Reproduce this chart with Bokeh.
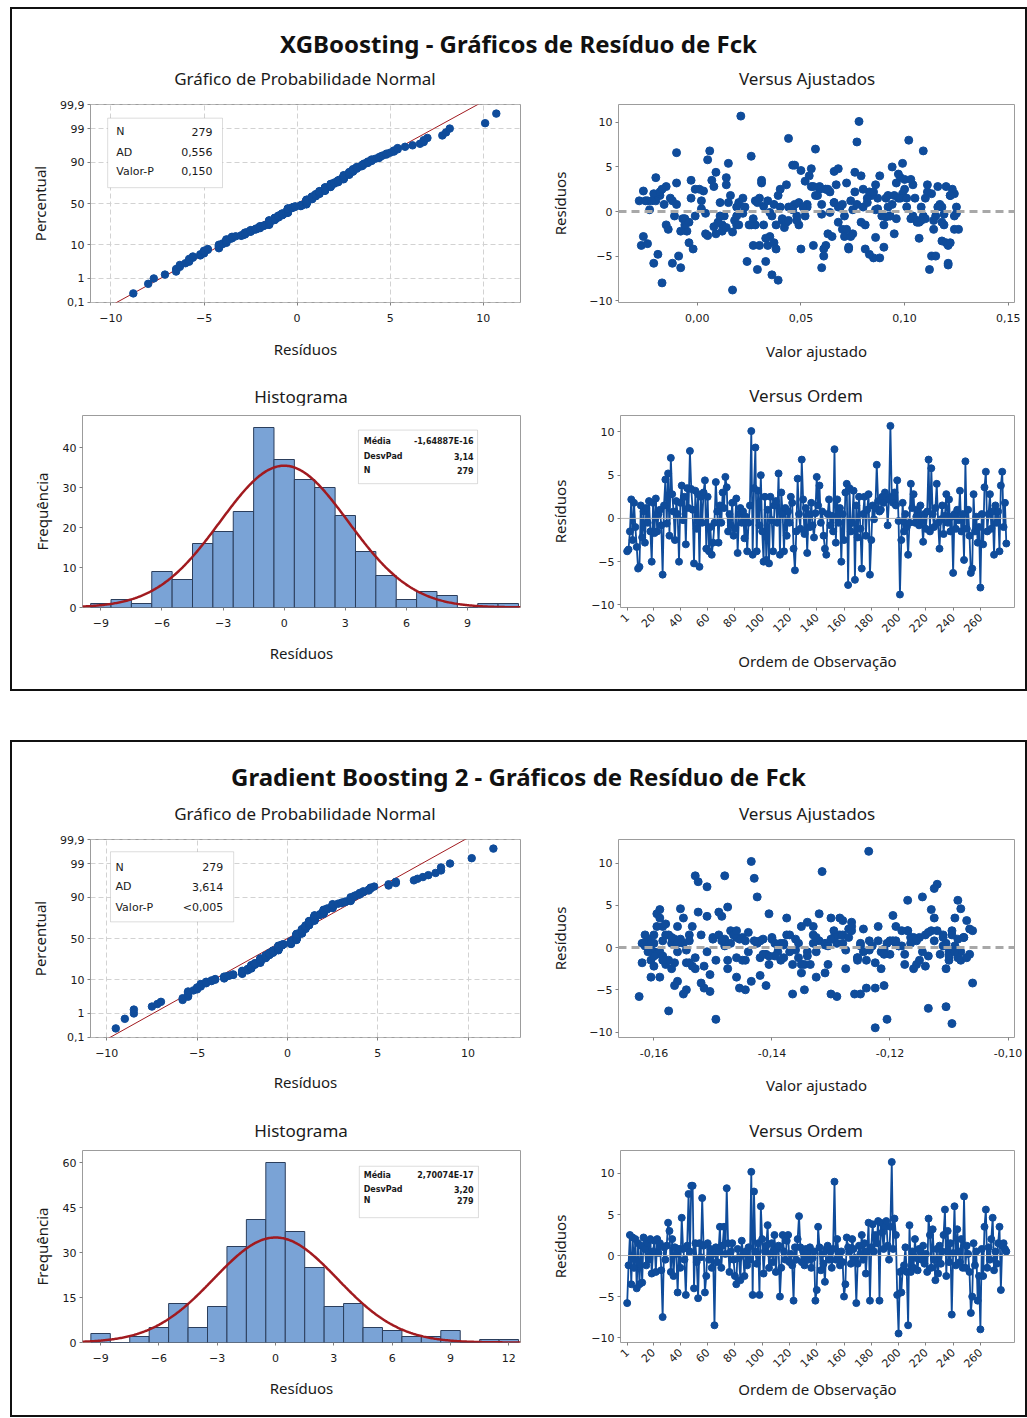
import math
from statistics import NormalDist
import numpy as np
from bokeh.plotting import figure
from bokeh.layouts import column, row
from bokeh.models import (Div, Spacer, Range1d, FixedTicker, CustomJSTickFormatter,
                          Span, BoxAnnotation, Label)
from bokeh.embed import file_html
from bokeh.resources import INLINE

# ---------------- data ----------------
N_OBS = 279

XGB_RES = [
    -3.8, -3.6, -1.5, 2.2, -2.5, 1.8, -1.0, -3.3, -5.8, -5.6, 1.5, -2.2, 0.8, -2.8, 1.2, -0.5, 2.0, -1.5, -5.0, 1.8,
    -1.7, 2.3, -1.5, 0.5, 1.0, -0.8, -6.5, 1.5, 4.5, -0.6, 5.2, -2.0, 7.0, 2.8, 0.8, -2.5, 2.0, 0.5, -5.0, 1.8,
    3.8, -0.2, 2.5, -3.0, 3.5, 1.2, 7.8, 3.4, 1.0, -5.2, 3.2, -1.2, 2.8, -5.6, 2.5, -0.5, 3.0, 4.4, -3.5, 2.5,
    -3.8, -1.0, -4.2, -2.8, -0.5, 4.2, 0.8, -2.8, 1.5, -0.5, 3.0, 1.2, 4.8, 3.6, -1.5, 0.5, -0.8, 1.8, -2.0, -1.2,
    2.3, -4.0, 0.5, 1.2, -0.5, 0.8, -2.3, 0.2, -3.8, -0.5, 1.5, 10.1, -4.2, 3.5, 8.2, -3.8, 3.2, -0.8, 5.0, -1.5,
    -5.0, 2.5, -4.8, 1.0, -5.2, 2.5, -0.2, -3.8, 1.5, 2.0, -0.5, 5.2, -4.2, 3.0, 0.5, -3.8, 1.2, -2.0, 0.8, -0.5,
    2.5, 1.8, -3.5, -6.0, -1.5, 4.6, 0.5, -1.2, 6.8, 2.2, -1.8, 1.2, -4.0, 0.5, -1.0, 1.8, -0.8, -2.2, 0.6, 4.8,
    1.5, 3.8, -0.5, 0.8, -2.0, -3.5, -4.2, 0.5, 2.2, -0.8, 0.3, -1.5, 8.0, -2.8, 2.2, -0.5, 1.2, -5.0, 0.5, -2.5,
    3.0, 4.0, -7.7, 3.5, -1.5, -0.5, 3.2, -7.1, 1.5, -2.2, 2.5, -1.2, -5.8, 0.5, 2.5, -2.0, 1.0, 2.8, -6.5, -2.5,
    1.5, -0.1, 1.2, 6.2, 2.0, 0.8, 1.0, 2.5, 1.8, 3.0, 2.5, -0.8, 2.2, 10.7, 2.5, 1.8, 3.0, 1.5, 4.4, -0.3,
    -8.8, -2.5, 1.8, -1.5, 0.5, -1.0, -4.2, -0.5, 4.0, 1.2, 2.8, -0.5, 0.2, 1.0, -0.8, 1.5, -0.3, -2.7, 0.5, -1.2,
    0.8, 6.8, -1.5, 5.8, 0.5, -1.0, 1.2, 4.0, -0.5, -3.5, -0.1, 1.5, -1.8, 0.3, 2.8, -0.5, 2.2, -1.5, 0.2, -6.3,
    0.5, -1.2, 1.0, -0.2, 3.2, -1.5, 0.5, -4.8, 6.6, -1.2, 1.0, -2.0, -6.3, -5.8, 2.8, -1.5, 0.2, -2.8, -1.0, -8.0,
    0.5, -3.0, 3.6, 5.4, -1.5, 0.5, 2.8, -1.2, 0.8, -4.2, 1.5, -0.5, 0.8, -3.8, 3.8, 5.4, -1.0, 1.8, -2.9,
]

XGB_FIT = [
    -0.027, -0.024, 0.012, 0.064, 0.095, -0.018, 0.041, 0.118, -0.012, 0.033, 0.087, -0.005, 0.053, 0.071, 0.002, 0.109, -0.021, 0.026, 0.061, 0.122,
    0.008, -0.026, 0.049, 0.080, 0.015, 0.103, 0.029, -0.003, 0.066, 0.091, 0.046, 0.114, 0.057, -0.015, 0.037, 0.075, 0.124, 0.019, -0.009, 0.084,
    0.098, 0.004, 0.059, 0.107, 0.031, -0.020, 0.077, 0.052, 0.011, 0.088, -0.010, 0.068, 0.116, 0.024, -0.001, 0.093, 0.043, 0.009, 0.120, 0.062,
    0.027, 0.106, -0.002, 0.074, 0.048, 0.097, -0.016, 0.035, 0.082, 0.013, 0.111, -0.024, 0.055, 0.100, 0.020, 0.069, -0.007, 0.039, 0.126, 0.079,
    0.003, 0.090, 0.045, -0.028, 0.115, 0.060, 0.017, 0.086, 0.034, 0.104, -0.013, 0.078, 0.050, 0.007, 0.044, 0.121, 0.072, -0.006, 0.094, 0.028,
    0.113, 0.040, -0.019, 0.066, 0.085, 0.001, 0.125, 0.056, 0.022, 0.099, -0.011, 0.047, 0.081, 0.014, 0.108, 0.030, -0.025, 0.070, 0.117, 0.036,
    0.063, 0.092, -0.004, 0.121, 0.025, 0.050, 0.101, 0.010, 0.006, 0.083, 0.042, -0.022, 0.073, 0.118, 0.018, 0.058, 0.096, -0.008, 0.032, 0.068,
    0.105, 0.014, 0.089, 0.047, -0.014, 0.122, 0.061, 0.023, 0.076, 0.110, 0.002, 0.038, 0.102, 0.065, -0.018, 0.093, 0.028, 0.115, 0.053, 0.009,
    0.086, 0.054, 0.039, -0.003, 0.119, 0.071, 0.031, 0.036, 0.097, 0.012, 0.062, 0.107, -0.021, 0.045, 0.080, 0.124, 0.020, 0.059, 0.112, 0.004,
    0.091, 0.035, 0.074, 0.026, 0.113, -0.010, 0.049, 0.100, 0.016, 0.067, 0.123, 0.041, 0.085, 0.021, -0.017, 0.057, 0.104, 0.030, 0.076, 0.119,
    0.017, 0.063, 0.095, -0.006, 0.044, 0.108, 0.073, 0.011, 0.088, 0.034, 0.120, 0.052, -0.023, 0.082, 0.027, 0.098, 0.060, 0.005, 0.116, 0.043,
    0.070, 0.109, 0.019, 0.005, 0.092, 0.048, -0.012, 0.079, 0.124, 0.037, 0.064, 0.101, 0.014, 0.087, 0.055, -0.001, 0.111, 0.032, 0.075, -0.008,
    0.040, 0.118, 0.066, 0.022, 0.096, -0.015, 0.051, 0.083, -0.010, 0.106, 0.029, 0.072, 0.060, 0.121, 0.008, 0.090, 0.046, -0.026, 0.114, -0.017,
    0.068, 0.033, 0.103, 0.015, 0.081, 0.125, 0.056, -0.004, 0.094, 0.038, 0.110, 0.019, 0.077, 0.062, -0.020, 0.099, 0.044, 0.122, 0.086,
]

GB_RES = [
    -5.8, -1.2, 2.5, -3.5, 2.2, -1.5, 2.0, -4.0, 1.5, -3.5, 1.2, -3.3, 2.2, 0.8, -1.2, 1.5, -0.5, 2.0, -2.2, 0.5,
    1.8, -2.0, 2.0, 0.3, 1.5, -1.8, -7.5, 1.0, -0.5, 1.2, 4.0, 3.0, -2.0, 2.0, -2.5, 1.0, 0.2, -4.5, 0.8, -1.5,
    4.6, 0.8, -0.5, -4.8, 1.2, 7.5, 0.5, 8.5, 8.5, -4.0, 1.5, -0.8, -5.2, 1.5, -0.2, 7.0, 1.2, -4.5, -2.5, 1.5,
    -0.5, 0.8, -1.5, 0.2, -8.5, 1.0, -0.8, 0.5, 3.5, -1.5, 1.2, 3.5, 0.2, 8.2, 1.5, -2.0, 0.5, 1.5, -0.5, -2.5,
    -3.5, 0.8, -0.3, -3.0, 1.8, 0.2, -2.5, 0.5, -1.2, 1.0, -0.5, 10.2, -4.8, 7.8, 0.5, -1.0, 1.5, -4.8, 6.0, 2.0,
    -2.2, 0.5, 1.2, 3.7, -1.5, 0.2, 1.5, -0.8, 2.5, -2.0, 0.8, 1.2, -5.0, -1.5, 2.5, 0.5, -0.5, 1.8, 2.5, -0.8,
    0.2, -1.2, -5.5, 1.0, -0.5, 2.0, 4.8, 1.0, -0.8, 0.5, -1.2, 0.8, 0.2, -0.5, 1.0, -1.5, -0.3, 0.5, -5.5, -4.2,
    3.5, 1.0, -1.8, 0.2, -1.0, -3.2, 0.8, 1.2, -0.5, 0.5, -1.5, 0.8, 9.0, -0.5, 2.0, 0.3, -1.2, 0.5, -0.8, -5.0,
    -3.5, 2.2, 1.0, 0.5, -1.0, 2.0, 0.8, -0.3, -5.8, -1.0, 1.2, 0.2, 2.5, -0.5, 1.5, -2.2, 0.5, 4.0, -5.5, 1.0,
    3.8, 0.5, 2.5, 1.5, 4.2, -5.5, 4.0, 2.8, 0.8, 3.5, 4.2, 1.2, -0.5, 3.5, 11.4, 0.8, 4.5, 2.5, -4.8, -9.5,
    -2.0, -4.5, -1.8, -1.2, 1.0, -2.0, -8.5, 3.7, -2.0, 0.5, -1.5, 2.0, -0.3, -1.8, 0.8, 0.5, -0.5, 1.2, -1.0, 0.2,
    -2.0, 4.5, 2.5, -1.5, 3.2, -0.5, -3.0, 0.8, -2.2, 1.2, -1.0, 0.5, 2.5, 5.6, -2.5, 3.0, -0.8, 1.5, -7.2, 0.3,
    6.0, -1.2, 3.2, 0.5, -0.8, 2.0, -1.5, 7.2, -1.5, 1.2, 0.2, -2.0, -7.0, -5.0, 1.5, -1.2, 0.5, -5.5, -2.5, -9.0,
    0.8, -2.5, 3.5, 5.6, -1.5, 1.0, -0.5, 2.0, 4.6, -1.8, 0.5, -1.0, 1.5, 3.5, -4.2, 1.2, 1.5, 0.8, 0.5,
]

GB_FIT = [
    -0.1625, -0.1380, -0.1190, -0.1590, -0.1270, -0.1475, -0.1095, -0.1560, -0.1330, -0.1605, -0.1150, -0.1420, -0.1245, -0.1585, -0.1355, -0.1110, -0.1510, -0.1295, -0.1600, -0.1205,
    -0.1440, -0.1580, -0.1170, -0.1310, -0.1540, -0.1225, -0.1575, -0.1400, -0.1080, -0.1460, -0.1595, -0.1265, -0.1345, -0.1130, -0.1530, -0.1415, -0.1185, -0.1565, -0.1320, -0.1100,
    -0.1555, -0.1235, -0.1390, -0.1515, -0.1160, -0.1120, -0.1470, -0.1530, -0.1480, -0.1435, -0.1285, -0.1065, -0.1505, -0.1375, -0.1210, -0.1125, -0.1450, -0.1410, -0.1570, -0.1140,
    -0.1340, -0.1610, -0.1255, -0.1090, -0.1495, -0.1360, -0.1175, -0.1550, -0.1300, -0.1445, -0.1075, -0.1590, -0.1230, -0.1430, -0.1520, -0.1155, -0.1385, -0.1280, -0.1600, -0.1105,
    -0.1460, -0.1200, -0.1545, -0.1350, -0.1135, -0.1615, -0.1275, -0.1425, -0.1085, -0.1565, -0.1325, -0.1435, -0.1455, -0.1525, -0.1190, -0.1395, -0.1580, -0.1240, -0.1425, -0.1060,
    -0.1535, -0.1310, -0.1165, -0.1485, -0.1605, -0.1250, -0.1370, -0.1115, -0.1560, -0.1405, -0.1220, -0.1500, -0.1345, -0.1080, -0.1585, -0.1290, -0.1145, -0.1465, -0.1330, -0.1595,
    -0.1180, -0.1420, -0.1365, -0.1555, -0.1100, -0.1265, -0.1475, -0.1610, -0.1200, -0.1380, -0.1070, -0.1540, -0.1305, -0.1440, -0.1160, -0.1575, -0.1235, -0.1355, -0.1300, -0.1520,
    -0.1090, -0.1455, -0.1620, -0.1185, -0.1340, -0.1505, -0.1125, -0.1270, -0.1590, -0.1395, -0.1150, -0.1560, -0.1315, -0.1215, -0.1470, -0.1605, -0.1255, -0.1105, -0.1410, -0.1545,
    -0.1325, -0.1065, -0.1500, -0.1280, -0.1600, -0.1170, -0.1445, -0.1360, -0.1290, -0.1585, -0.1110, -0.1390, -0.1535, -0.1245, -0.1465, -0.1140, -0.1570, -0.1320, -0.1250, -0.1480,
    -0.1195, -0.1615, -0.1350, -0.1095, -0.1525, -0.1260, -0.1405, -0.1580, -0.1155, -0.1285, -0.1490, -0.1075, -0.1370, -0.1550, -0.1236, -0.1420, -0.1130, -0.1595, -0.1225, -0.1225,
    -0.1305, -0.1210, -0.1565, -0.1460, -0.1085, -0.1335, -0.1205, -0.1510, -0.1175, -0.1600, -0.1385, -0.1120, -0.1275, -0.1540, -0.1430, -0.1165, -0.1610, -0.1295, -0.1100, -0.1480,
    -0.1350, -0.1590, -0.1220, -0.1450, -0.1070, -0.1560, -0.1310, -0.1190, -0.1515, -0.1400, -0.1135, -0.1620, -0.1265, -0.1085, -0.1475, -0.1340, -0.1210, -0.1575, -0.1135, -0.1380,
    -0.1145, -0.1530, -0.1280, -0.1605, -0.1415, -0.1180, -0.1495, -0.1510, -0.1240, -0.1570, -0.1110, -0.1365, -0.1105, -0.1445, -0.1600, -0.1255, -0.1330, -0.1550, -0.1160, -0.1095,
    -0.1485, -0.1215, -0.1375, -0.1170, -0.1585, -0.1300, -0.1090, -0.1460, -0.1080, -0.1545, -0.1250, -0.1405, -0.1615, -0.1125, -0.1060, -0.1325, -0.1490, -0.1195, -0.1560,
]

# histogram bars (bin centres, width 1)
XGB_BIN_CENTERS = list(range(-9, 12))
XGB_BIN_COUNTS = [1, 2, 1, 9, 7, 16, 19, 24, 45, 37, 32, 30, 23, 14, 8, 2, 4, 3, 0, 1, 1]
GB_BIN_CENTERS = list(range(-9, 13))
GB_BIN_COUNTS = [3, 0, 2, 5, 13, 5, 12, 32, 41, 60, 37, 25, 12, 13, 5, 4, 2, 2, 4, 0, 1, 1]

# summary statistics shown in the panels
XGB_MEAN, XGB_SD = 0.0, 3.14
GB_MEAN, GB_SD = 0.0, 3.18
XGB_PROB_STATS = [("N", "279"), ("AD", "0,556"), ("Valor-P", "0,150")]
GB_PROB_STATS = [("N", "279"), ("AD", "3,614"), ("Valor-P", "<0,005")]
XGB_HIST_STATS = [("Média", "-1,64887E-16"), ("DesvPad", "3,14"), ("N", "279")]
GB_HIST_STATS = [("Média", "2,70074E-17"), ("DesvPad", "3,20"), ("N", "279")]

PROB_TICKS = [0.1, 1, 10, 50, 90, 99, 99.9]
PROB_TICK_LABELS = ["0,1", "1", "10", "50", "90", "99", "99,9"]
ORDER_TICKS = [1, 20, 40, 60, 80, 100, 120, 140, 160, 180, 200, 220, 240, 260]

assert len(XGB_RES) == N_OBS and len(XGB_FIT) == N_OBS
assert len(GB_RES) == N_OBS and len(GB_FIT) == N_OBS

# ---------------- styling ----------------
BLUE = "#0f4c9b"
BAR_FILL = "#7aa3d6"
BAR_LINE = "#2b3e5c"
RED = "#a11a1f"
FRAME = "#9c9c9c"
TXT = "#1a1a1a"


def base_fig(xr, yr, dims, xlab_standoff, ylab_standoff, xtick_standoff=8):
    w, h, mbl, mbr, mbt, mbb = dims
    p = figure(width=w, height=h, x_range=Range1d(*xr), y_range=Range1d(*yr),
               output_backend="svg", toolbar_location=None,
               min_border_left=mbl, min_border_right=mbr,
               min_border_top=mbt, min_border_bottom=mbb)
    p.outline_line_color = FRAME
    p.outline_line_width = 1
    p.background_fill_color = "white"
    p.border_fill_color = "white"
    p.xgrid.visible = False
    p.ygrid.visible = False
    for ax in p.axis:
        ax.axis_line_color = None
        ax.major_tick_line_color = "#808080"
        ax.major_tick_out = 3
        ax.major_tick_in = 0
        ax.minor_tick_line_color = None
        ax.major_label_text_font = "DejaVu Sans"
        ax.major_label_text_font_size = "11px"
        ax.major_label_text_color = TXT
        ax.major_label_standoff = 3
        ax.axis_label_text_font = "Noto Sans"
        ax.axis_label_text_font_size = "15px"
        ax.axis_label_text_font_style = "normal"
        ax.axis_label_text_color = TXT
    p.xaxis.major_label_standoff = xtick_standoff
    p.xaxis.axis_label_standoff = xlab_standoff
    p.yaxis.axis_label_standoff = ylab_standoff
    return p


def fx(xr, f):
    return xr[0] + f * (xr[1] - xr[0])


def fy(yr, f_top):
    return yr[1] - f_top * (yr[1] - yr[0])


def add_stats(p, xr, yr, box, stats, row_f, tl, vr, font_size, bold):
    left, right, top, bottom = box
    p.add_layout(BoxAnnotation(left=fx(xr, left), right=fx(xr, right),
                               top=fy(yr, top), bottom=fy(yr, bottom),
                               fill_color="white", fill_alpha=1.0,
                               line_color="#8a8a8a", line_width=1, level="overlay"))
    style = "bold" if bold else "normal"
    for (name, val), rf in zip(stats, row_f):
        for txt, xf, al in ((name, tl, "left"), (val, vr, "right")):
            p.add_layout(Label(x=fx(xr, xf), y=fy(yr, rf), text=txt, text_align=al,
                               text_baseline="middle", text_font="DejaVu Sans",
                               text_font_size=font_size, text_font_style=style,
                               text_color=TXT, level="overlay"))


def prob_plot(res, mean, sd, xr, dims, stand, stats, box, row_f, tl, vr):
    zr = (NormalDist().inv_cdf(0.001), NormalDist().inv_cdf(0.999))
    p = base_fig(xr, zr, dims, *stand)
    zt = [round(NormalDist().inv_cdf(t / 100.0), 6) for t in PROB_TICKS]
    p.yaxis.ticker = FixedTicker(ticks=zt)
    p.yaxis.major_label_overrides = {z: lab for z, lab in zip(zt, PROB_TICK_LABELS)}
    p.xaxis.ticker = FixedTicker(ticks=[-10, -5, 0, 5, 10])
    for g in (p.xgrid, p.ygrid):
        g.visible = True
        g.grid_line_color = "#d2d2d2"
        g.grid_line_dash = "5 3"
        g.grid_line_width = 1
    n = len(res)
    xs = sorted(res)
    zs = [NormalDist().inv_cdf((i + 1 - 0.3) / (n + 0.4)) for i in range(n)]
    zl = [-3.8, 3.8]
    p.line([mean + sd * z for z in zl], zl, line_color=RED, line_width=1)
    p.scatter(xs, zs, size=7.5, fill_color=BLUE, line_color=BLUE)
    p.xaxis.axis_label = "Resíduos"
    p.yaxis.axis_label = "Percentual"
    add_stats(p, xr, zr, box, stats, row_f, tl, vr, "11px", False)
    return p


def fit_plot(fit, res, xr, yr, xticks, dims, stand):
    p = base_fig(xr, yr, dims, *stand)
    p.add_layout(Span(location=0, dimension="width", line_color="#a8a8a8",
                      line_width=3, line_dash="8 5"))
    p.scatter(fit, res, size=8, fill_color=BLUE, line_color=BLUE)
    p.xaxis.ticker = FixedTicker(ticks=xticks)
    p.xaxis.formatter = CustomJSTickFormatter(code="return tick.toFixed(2).replace('.', ',');")
    p.yaxis.ticker = FixedTicker(ticks=[-10, -5, 0, 5, 10])
    p.xaxis.axis_label = "Valor ajustado"
    p.yaxis.axis_label = "Resíduos"
    return p


def hist_plot(centers, counts, mean, sd, xr, yr, xticks, yticks, dims, stand, stats, box, row_f, tl, vr):
    p = base_fig(xr, yr, dims, *stand)
    p.quad(left=[c - 0.5 for c in centers], right=[c + 0.5 for c in centers],
           bottom=0, top=counts, fill_color=BAR_FILL, line_color=BAR_LINE, line_width=1)
    n = sum(counts)
    xc = np.linspace(xr[0], xr[1], 400)
    yc = n * 1.0 * np.exp(-0.5 * ((xc - mean) / sd) ** 2) / (sd * math.sqrt(2 * math.pi))
    p.line(xc, yc, line_color=RED, line_width=2.5)
    p.xaxis.ticker = FixedTicker(ticks=xticks)
    p.yaxis.ticker = FixedTicker(ticks=yticks)
    p.xaxis.axis_label = "Resíduos"
    p.yaxis.axis_label = "Frequência"
    add_stats(p, xr, yr, box, stats, row_f, tl, vr, "8px", True)
    return p


def order_plot(res, xr, yr, dims, stand):
    p = base_fig(xr, yr, dims, *stand, xtick_standoff=5)
    idx = list(range(1, len(res) + 1))
    p.add_layout(Span(location=0, dimension="width", line_color="#b5b5b5", line_width=1))
    p.line(idx, res, line_color=BLUE, line_width=1.8)
    p.scatter(idx, res, size=7, fill_color=BLUE, line_color=BLUE)
    p.xaxis.ticker = FixedTicker(ticks=ORDER_TICKS)
    p.xaxis.major_label_orientation = math.pi / 4
    p.yaxis.ticker = FixedTicker(ticks=[-10, -5, 0, 5, 10])
    p.xaxis.axis_label = "Ordem de Observação"
    p.yaxis.axis_label = "Resíduos"
    return p


def title_div(text, h):
    return Div(text=("<div style=\"width:1013px;text-align:center;font-family:'Noto Sans';"
                     "font-weight:bold;font-size:24px;color:#111;padding-top:18px;\">"
                     + text + "</div>"),
               width=1013, height=h, margin=(0, 0, 0, 0))


def sub_div(text, w, h, cx, top):
    html = ("<div style=\"position:relative;width:%dpx;height:%dpx;\">"
            "<span style=\"position:absolute;left:%dpx;top:%dpx;transform:translateX(-50%%);"
            "white-space:nowrap;font-family:'Noto Sans';font-size:17px;line-height:20px;"
            "color:#1a1a1a;\">%s</span></div>") % (w, h, cx, top, text)
    return Div(text=html, width=w, height=h, margin=(0, 0, 0, 0))


BOX_STYLE = {"border": "2px solid #111", "background-color": "white"}

# ---------------- panel 1 : XGBoosting ----------------
p1 = prob_plot(XGB_RES, XGB_MEAN, XGB_SD, (-11.1, 12.0), (535, 288, 78, 27, 13, 71), (14, 7),
               XGB_PROB_STATS, (0.040, 0.307, 0.069, 0.42), (0.137, 0.24, 0.338), 0.06, 0.284)
p2 = fit_plot(XGB_FIT, XGB_RES, (-0.038, 0.153), (-10.2, 12.0), [0.0, 0.05, 0.10, 0.15],
              (478, 288, 53, 11, 14, 76), (16, 16))
p3 = hist_plot(XGB_BIN_CENTERS, XGB_BIN_COUNTS, XGB_MEAN, XGB_SD, (-9.9, 11.6), (0, 48),
               [-9, -6, -3, 0, 3, 6, 9], [0, 10, 20, 30, 40], (535, 284, 70, 27, 8, 79), (13, 8),
               XGB_HIST_STATS, (0.630, 0.902, 0.076, 0.355), (0.137, 0.213, 0.284), 0.642, 0.893)
p4 = order_plot(XGB_RES, (-3.9, 285), (-10.3, 11.9), (478, 284, 53, 11, 10, 82), (12, 18))

box1 = column(title_div("XGBoosting - Gráficos de Resíduo de Fck", 51),
              row(sub_div("Gráfico de Probabilidade Normal", 535, 30, 293, 9),
                  sub_div("Versus Ajustados", 478, 30, 260, 9)),
              row(p1, p2),
              row(sub_div("Histograma", 535, 27, 289, 9),
                  sub_div("Versus Ordem", 478, 27, 259, 8)),
              row(p3, p4), styles=BOX_STYLE)

# ---------------- panel 2 : Gradient Boosting 2 ----------------
q1 = prob_plot(GB_RES, GB_MEAN, GB_SD, (-10.9, 12.9), (535, 294, 78, 27, 16, 69), (12, 7),
               GB_PROB_STATS, (0.0465, 0.333, 0.062, 0.416), (0.139, 0.239, 0.344), 0.058, 0.309)
q2 = fit_plot(GB_FIT, GB_RES, (-0.166, -0.0989), (-10.65, 12.8), [-0.16, -0.14, -0.12, -0.10],
              (478, 294, 53, 11, 17, 79), (15, 16))
q3 = hist_plot(GB_BIN_CENTERS, GB_BIN_COUNTS, GB_MEAN, GB_SD, (-9.93, 12.6), (0, 64),
               [-9, -6, -3, 0, 3, 6, 9, 12], [0, 15, 30, 45, 60], (535, 271, 70, 27, 4, 73), (13, 8),
               GB_HIST_STATS, (0.632, 0.904, 0.082, 0.35), (0.129, 0.201, 0.258), 0.642, 0.893)
q4 = order_plot(GB_RES, (-3.9, 285), (-10.6, 12.8), (478, 271, 53, 11, 6, 73), (5, 18))

box2 = column(title_div("Gradient Boosting 2 - Gráficos de Resíduo de Fck", 50),
              row(sub_div("Gráfico de Probabilidade Normal", 535, 30, 293, 12),
                  sub_div("Versus Ajustados", 478, 30, 260, 12)),
              row(q1, q2),
              row(sub_div("Histograma", 535, 28, 289, 5),
                  sub_div("Versus Ordem", 478, 28, 259, 5)),
              row(q3, q4), styles=BOX_STYLE)

root = column(box1, Spacer(height=49, width=10), box2, margin=(7, 0, 0, 10))

open("out.html", "w").write(file_html(root, INLINE))
